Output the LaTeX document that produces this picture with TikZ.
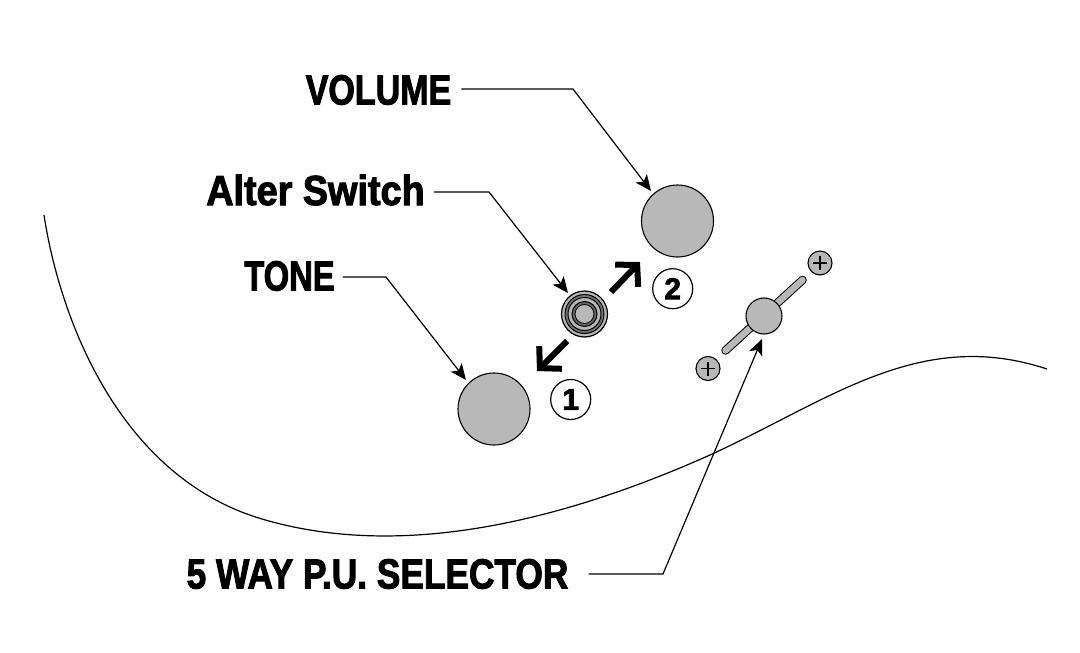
\documentclass[tikz,border=0pt]{standalone}
\usepackage{fontspec}
\setmainfont{Liberation Sans}
\newfontfamily\heavy[FakeBold=2.5]{Liberation Sans Bold}
\usetikzlibrary{arrows.meta}
\definecolor{knobgrey}{gray}{0.72}
\tikzset{
 lbl/.style={text=black, inner sep=0pt, anchor=center},
 knob/.style={circle, draw=black, line width=1.1pt, fill=knobgrey, minimum size=#1, inner sep=0pt},
 num/.style={circle, draw=black, line width=1.2pt, fill=white, minimum size=40pt, inner sep=0pt, font=\heavy\fontsize{30}{30}\selectfont},
 lead/.style={draw=black, line width=1.2pt, -{Stealth[length=16pt,width=14pt,inset=4pt]}},
 bigarrow/.style={draw=black, line width=6pt, -{Straight Barb[length=15pt,width=32pt,line width=6pt]}},
 body/.style={draw=black, line width=1.2pt},
 ring/.style={circle, draw=black, minimum size=#1, inner sep=0pt}
}
\begin{document}
\begin{tikzpicture}[x=1pt,y=-1pt]
\useasboundingbox (0,0) rectangle (1080,653);
\node[lbl] (vol) at (378.5,90) {\heavy\fontsize{42}{42}\selectfont\scalebox{0.81}[1]{VOLUME}};
\node[lbl] (alt) at (315.5,190) {\heavy\fontsize{42}{42}\selectfont\scalebox{0.90}[1]{Alter Switch}};
\node[lbl] (ton) at (289.5,276) {\heavy\fontsize{42}{42}\selectfont\scalebox{0.78}[1]{TONE}};
\node[lbl] (sel) at (377.5,574) {\heavy\fontsize{42}{42}\selectfont\scalebox{0.84}[1]{5 WAY P.U. SELECTOR}};
\node[knob=72pt] (vk) at (677.5,221) {};
\node[knob=72pt] (tk) at (494,409) {};
\coordinate (b1) at (725.5,350.5);
\coordinate (b2) at (802.5,280);
\draw[line width=8.5pt,line cap=round,black] (b1) -- (b2);
\draw[line width=6.5pt,line cap=round,knobgrey] (b1) -- (b2);
\node[knob=36pt] (sk) at (764,316) {};
\node[knob=24pt] (sc1) at (820,263) {};
\draw[line width=1.2pt] (813,263)--(827,263) (820,256)--(820,270);
\node[knob=24pt] (sc2) at (708,368.5) {};
\draw[line width=1.2pt] (701,368.5)--(715,368.5) (708,361.5)--(708,375.5);
\node[ring=46pt,line width=1.2pt,fill=knobgrey] (sw) at (584.5,314) {};
\node[ring=39pt,line width=1pt,fill=black!55] at (584.5,314) {};
\node[ring=33pt,line width=1pt,fill=knobgrey] at (584.5,314) {};
\node[ring=25pt,line width=1pt,fill=black!60] at (584.5,314) {};
\node[ring=19pt,line width=.8pt,fill=knobgrey] at (584.5,314) {};
\node[num] (n2) at (672.7,288.7) {2};
\node[num] (n1) at (570.7,399.5) {1};
\coordinate (a2s) at (611,292);
\coordinate (a2e) at (640,262);
\coordinate (a1s) at (567,341);
\coordinate (a1e) at (537,371);
\draw[bigarrow] (a2s) -- (a2e);
\draw[bigarrow] (a1s) -- (a1e);
\draw[lead] (vol.east) ++(10,-1) -- (573,89) -- (651,191);
\draw[lead] (alt.east) ++(9,2) -- (489,192) -- (568,293);
\draw[lead] (ton.east) ++(8,1) -- (386,277) -- (466,380);
\draw[lead] (sel.east) ++(20,0) -- (663,574) -- (762,339);
\draw[body] (44,215) .. controls (60,320) and (120,477) .. (262,519) .. controls (400,560) and (560,522) .. (710,455) .. controls (830,400) and (920,327) .. (1047,369);
\end{tikzpicture}
\end{document}
